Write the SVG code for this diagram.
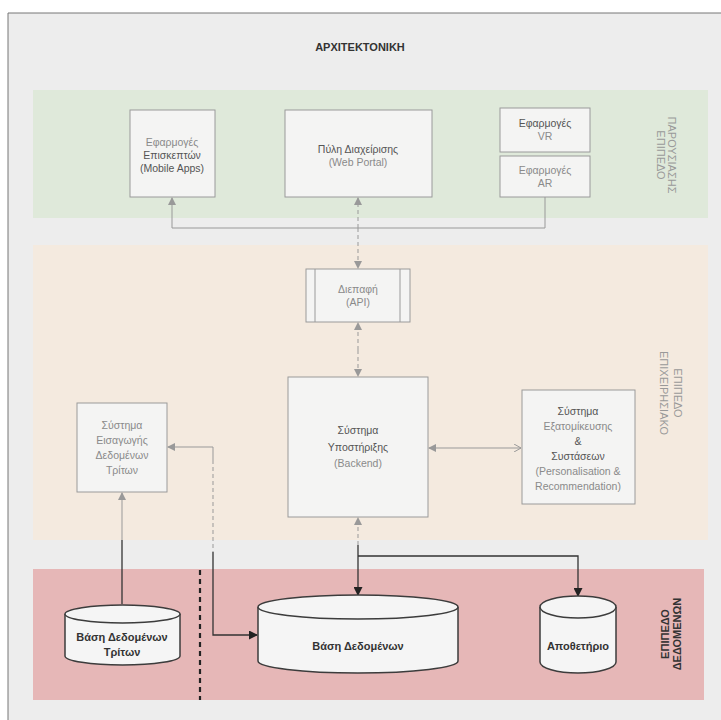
<svg xmlns="http://www.w3.org/2000/svg" width="721" height="720" viewBox="0 0 721 720">
<defs>
<style>
.box{fill:#f4f4f3;stroke:#9a9a9a;stroke-width:1}
.t{font-family:"Liberation Sans",Arial,sans-serif;font-size:10.5px;fill:#8a8a8a;text-anchor:middle}
.td{font-family:"Liberation Sans",Arial,sans-serif;font-size:10.5px;fill:#555;text-anchor:middle}
.tb{font-family:"Liberation Sans",Arial,sans-serif;font-size:11px;font-weight:bold;fill:#333;text-anchor:middle}
.lay{font-family:"Liberation Sans",Arial,sans-serif;font-size:11px;fill:#999;text-anchor:middle}
.cyl{fill:#f5f5f5;stroke:#3c3c3c;stroke-width:1.5}
.c{fill:none;stroke:#999;stroke-width:1}
.cd{fill:none;stroke:#999;stroke-width:1;stroke-dasharray:4 3}
.cs{fill:none;stroke:#333;stroke-width:1.3}
</style>
<marker id="ag" markerWidth="8" markerHeight="8" refX="7" refY="4" orient="auto" markerUnits="userSpaceOnUse"><path d="M0,0 L8,4 L0,8 z" fill="#999"/></marker>
<marker id="ao" markerWidth="8" markerHeight="8" refX="7" refY="4" orient="auto" markerUnits="userSpaceOnUse"><path d="M0,0 L7,4 L0,8" fill="none" stroke="#999"/></marker>
<marker id="ak" markerWidth="9" markerHeight="9" refX="8" refY="4.5" orient="auto" markerUnits="userSpaceOnUse"><path d="M0,0 L9,4.5 L0,9 z" fill="#222"/></marker>
</defs>
<rect x="0" y="0" width="721" height="720" fill="#ffffff"/>
<rect x="8" y="13" width="713" height="707" fill="#ededed"/>
<path d="M8,720 V13 H721" fill="none" stroke="#777" stroke-width="1"/>
<text x="360" y="51" class="tb" font-size="11.5">ΑΡΧΙΤΕΚΤΟΝΙΚΗ</text>

<g id="layers">
<rect x="33" y="90" width="675" height="128" fill="#dfe9da"/>
<rect x="33" y="245" width="675" height="295" fill="#f4eadf"/>
<rect x="33" y="569" width="671" height="131" fill="#e6b7b7"/>
<line x1="200" y1="570" x2="200" y2="700" stroke="#222" stroke-width="2.2" stroke-dasharray="5 4"/>
<text class="lay" transform="translate(657,155) rotate(90)">ΕΠΙΠΕΔΟ</text>
<text class="lay" transform="translate(668,155) rotate(90)">ΠΑΡΟΥΣΙΑΣΗΣ</text>
<text class="lay" transform="translate(660,393) rotate(90)">ΕΠΙΧΕΙΡΗΣΙΑΚΟ</text>
<text class="lay" transform="translate(674,393) rotate(90)">ΕΠΙΠΕΔΟ</text>
<text class="tb" font-size="10.5" transform="translate(669,634) rotate(-90)">ΕΠΙΠΕΔΟ</text>
<text class="tb" font-size="10.5" transform="translate(681,634) rotate(-90)">ΔΕΔΟΜΕΝΩΝ</text>
</g>

<g id="connectors">
<path class="c" d="M172,228 H545 V197"/>
<path class="c" d="M172,228 V198" marker-end="url(#ag)"/>
<path class="cd" d="M358,228 V198" marker-end="url(#ag)"/>
<path class="cd" d="M358,228 V268" marker-end="url(#ag)"/>
<path class="cd" d="M358,350 V323" marker-end="url(#ag)"/>
<path class="cd" d="M358,350 V376" marker-end="url(#ag)"/>
<path class="c" d="M475,448 H429" marker-end="url(#ag)"/>
<path class="c" d="M475,448 H521" marker-end="url(#ao)"/>
<path class="c" d="M213,460 V447 H168" marker-end="url(#ag)"/>
<path class="cd" d="M213,460 V552"/>
<path class="cs" d="M213,552 V635 H257" marker-end="url(#ak)"/>
<path class="c" d="M122,540 V493" marker-end="url(#ag)"/>
<path class="cs" d="M122,540 V604"/>
<path class="cd" d="M358,545 V518" marker-end="url(#ag)"/>
<path class="cs" d="M358,545 V595" marker-end="url(#ak)"/>
<path class="cs" d="M358,556 H578 V596" marker-end="url(#ak)"/>
</g>

<g id="mobile">
<rect class="box" x="130" y="110" width="85" height="87"/>
<text class="t" x="172" y="146">Εφαρμογές</text>
<text class="td" x="172" y="159">Επισκεπτών</text>
<text class="td" x="172" y="172">(Mobile Apps)</text>
</g>
<g id="portal">
<rect class="box" x="285" y="110" width="147" height="87"/>
<text class="td" x="358" y="153">Πύλη Διαχείρισης</text>
<text class="t" x="358" y="166">(Web Portal)</text>
</g>
<g id="vr">
<rect class="box" x="500" y="108" width="90" height="44"/>
<text class="td" x="545" y="127">Εφαρμογές</text>
<text class="t" x="545" y="140">VR</text>
</g>
<g id="ar">
<rect class="box" x="500" y="156" width="90" height="41"/>
<text class="t" x="545" y="174">Εφαρμογές</text>
<text class="t" x="545" y="187">AR</text>
</g>
<g id="api">
<rect class="box" x="306" y="269" width="104" height="53"/>
<line x1="315" y1="269" x2="315" y2="322" stroke="#9a9a9a"/>
<line x1="400" y1="269" x2="400" y2="322" stroke="#9a9a9a"/>
<text class="t" x="358" y="293">Διεπαφή</text>
<text class="t" x="358" y="306">(API)</text>
</g>
<g id="backend">
<rect class="box" x="288" y="377" width="140" height="140"/>
<text class="td" x="358" y="434">Σύστημα</text>
<text class="td" x="358" y="451">Υποστήριξης</text>
<text class="t" x="358" y="467">(Backend)</text>
</g>
<g id="thirdparty">
<rect class="box" x="77" y="403" width="90" height="89"/>
<text class="t" x="122" y="429">Σύστημα</text>
<text class="t" x="122" y="444">Εισαγωγής</text>
<text class="t" x="122" y="459">Δεδομένων</text>
<text class="t" x="122" y="474">Τρίτων</text>
</g>
<g id="personal">
<rect class="box" x="522" y="390" width="113" height="114"/>
<text class="td" x="578" y="415">Σύστημα</text>
<text class="t" x="578" y="430">Εξατομίκευσης</text>
<text class="td" x="578" y="445">&amp;</text>
<text class="td" x="578" y="460">Συστάσεων</text>
<text class="t" x="578" y="475">(Personalisation &amp;</text>
<text class="t" x="578" y="490">Recommendation)</text>
</g>

<g id="db-third">
<path class="cyl" d="M65,614 V656 A57.5,9 0 0 0 180,656 V614"/>
<ellipse class="cyl" cx="122.5" cy="614" rx="57.5" ry="9"/>
<text class="tb" x="122" y="641">Βάση Δεδομένων</text>
<text class="tb" x="122" y="656">Τρίτων</text>
</g>
<g id="db-main">
<path class="cyl" d="M258,607 V661 A100,12 0 0 0 458,661 V607"/>
<ellipse class="cyl" cx="358" cy="607" rx="100" ry="12"/>
<text class="tb" x="358" y="650">Βάση Δεδομένων</text>
</g>
<g id="repo">
<path class="cyl" d="M540,607 V662 A38,11 0 0 0 616,662 V607"/>
<ellipse class="cyl" cx="578" cy="607" rx="38" ry="11"/>
<text class="tb" x="578" y="650" font-size="10">Αποθετήριο</text>
</g>
</svg>
